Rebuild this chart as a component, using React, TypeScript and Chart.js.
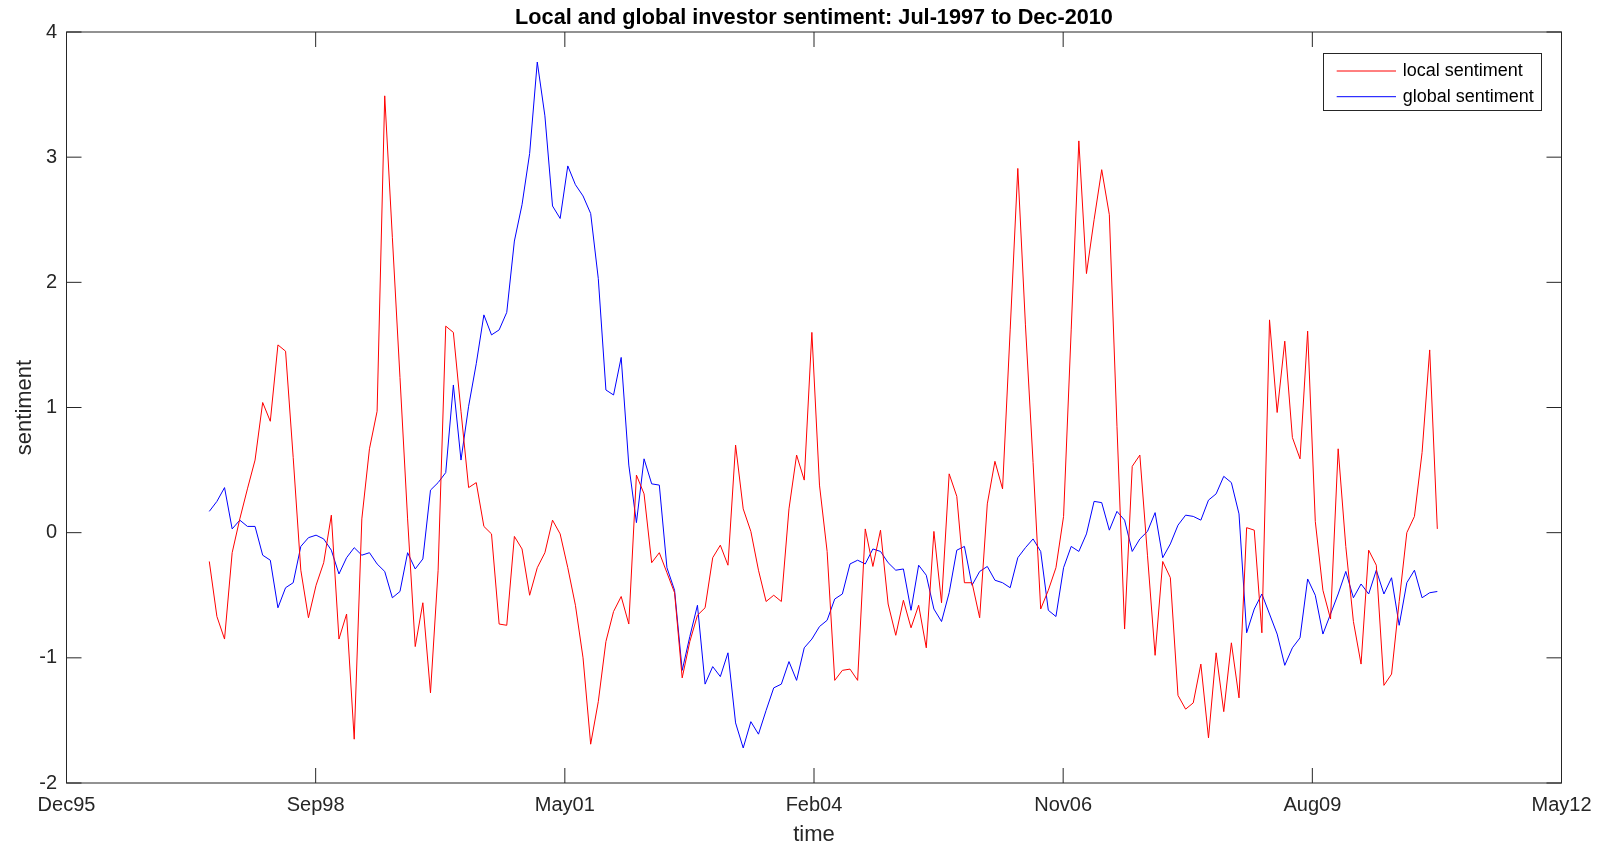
import React, { useEffect, useRef } from "react";
import { Chart, registerables } from "chart.js";

Chart.register(...registerables);

const FONT = "'Liberation Sans', Arial, Helvetica, sans-serif";
const AXIS_COLOR = "#262626";

// Monthly sentiment indices, Jul-1997 .. Dec-2010 (162 months).
// x is measured in months after Dec-1995; the first observation sits at month 19.
const firstMonth = 19;

const localSentiment = [
  -0.23, -0.67, -0.85, -0.16, 0.11, 0.35, 0.58, 1.04, 0.89, 1.5,
  1.45, 0.6, -0.3, -0.68, -0.42, -0.24, 0.14, -0.85, -0.65, -1.65,
  0.11, 0.67, 0.97, 3.49, 2.36, 1.24, 0.11, -0.91, -0.56, -1.28,
  -0.3, 1.65, 1.6, 0.97, 0.36, 0.4, 0.05, -0.01, -0.73, -0.74,
  -0.03, -0.13, -0.5, -0.28, -0.16, 0.1, -0.01, -0.28, -0.58, -1.0,
  -1.69, -1.35, -0.87, -0.63, -0.51, -0.73, 0.46, 0.31, -0.24, -0.16,
  -0.32, -0.48, -1.16, -0.87, -0.66, -0.6, -0.2, -0.1, -0.26, 0.7,
  0.19, 0.01, -0.3, -0.55, -0.5, -0.55, 0.19, 0.62, 0.42, 1.6,
  0.38, -0.15, -1.18, -1.1, -1.09, -1.18, 0.03, -0.27, 0.02, -0.57,
  -0.82, -0.54, -0.76, -0.58, -0.92, 0.01, -0.56, 0.47, 0.29, -0.4,
  -0.4, -0.68, 0.23, 0.57, 0.35, 1.62, 2.91, 1.66, 0.56, -0.61,
  -0.46, -0.28, 0.13, 1.62, 3.13, 2.07, 2.5, 2.9, 2.54, 0.85,
  -0.77, 0.53, 0.62, -0.18, -0.98, -0.23, -0.36, -1.3, -1.41, -1.36,
  -1.05, -1.64, -0.96, -1.43, -0.88, -1.32, 0.04, 0.02, -0.8, 1.7,
  0.96, 1.53, 0.76, 0.59, 1.61, 0.09, -0.46, -0.69, 0.67, -0.11,
  -0.71, -1.05, -0.14, -0.26, -1.22, -1.13, -0.55, 0.0, 0.13, 0.64,
  1.46, 0.03,
];

const globalSentiment = [
  0.17, 0.25, 0.36, 0.03, 0.1, 0.05, 0.05, -0.18, -0.22, -0.6,
  -0.44, -0.4, -0.11, -0.04, -0.02, -0.05, -0.14, -0.33, -0.2, -0.12,
  -0.18, -0.16, -0.25, -0.31, -0.52, -0.47, -0.16, -0.29, -0.21, 0.34,
  0.4, 0.48, 1.18, 0.58, 1.01, 1.35, 1.74, 1.58, 1.62, 1.76,
  2.33, 2.62, 3.03, 3.76, 3.33, 2.61, 2.51, 2.93, 2.78, 2.69,
  2.55, 2.03, 1.14, 1.1, 1.4, 0.54, 0.08, 0.59, 0.39, 0.38,
  -0.28, -0.46, -1.1, -0.83, -0.58, -1.21, -1.07, -1.15, -0.96, -1.52,
  -1.72, -1.51, -1.61, -1.42, -1.24, -1.21, -1.03, -1.18, -0.92, -0.85,
  -0.75, -0.7, -0.53, -0.49, -0.25, -0.22, -0.25, -0.13, -0.15, -0.24,
  -0.3, -0.29, -0.62, -0.26, -0.34, -0.61, -0.71, -0.48, -0.14, -0.11,
  -0.42, -0.31, -0.27, -0.38, -0.4, -0.44, -0.2, -0.12, -0.05, -0.15,
  -0.62, -0.67, -0.28, -0.11, -0.15, -0.01, 0.25, 0.24, 0.02, 0.17,
  0.1, -0.15, -0.05, 0.01, 0.16, -0.2, -0.09, 0.06, 0.14, 0.13,
  0.1, 0.26, 0.31, 0.45, 0.4, 0.15, -0.8, -0.61, -0.49, -0.65,
  -0.81, -1.06, -0.92, -0.84, -0.37, -0.5, -0.81, -0.65, -0.49, -0.31,
  -0.52, -0.41, -0.49, -0.3, -0.49, -0.36, -0.74, -0.4, -0.3, -0.52,
  -0.48, -0.47,
];

const seriesLabels = ["local sentiment", "global sentiment"];
const seriesColors = ["#FF0000", "#0000FF"];

const xTickLabels = ["Dec95", "Sep98", "May01", "Feb04", "Nov06", "Aug09", "May12"];
const yTickValues = [-2, -1, 0, 1, 2, 3, 4];

// Axis window in months after Dec-1995; ticks are spread evenly over it.
const xMin = 0.28;
const xMax = 196.28;

const toPoints = (values: number[]) =>
  values.map((v, i) => ({ x: firstMonth + i, y: v }));

// Box around the plot area with inward-pointing tick marks on all four sides.
const axesBoxPlugin = {
  id: "axesBox",
  afterDatasetsDraw(chart: any) {
    const { ctx, chartArea, scales } = chart;
    const { left, right, top, bottom } = chartArea;
    const len = 15;
    ctx.save();
    ctx.strokeStyle = AXIS_COLOR;
    ctx.lineWidth = 1;
    ctx.beginPath();
    scales.x.ticks.forEach((t: any) => {
      const px = scales.x.getPixelForValue(t.value);
      ctx.moveTo(px, bottom);
      ctx.lineTo(px, bottom - len);
      ctx.moveTo(px, top);
      ctx.lineTo(px, top + len);
    });
    scales.y.ticks.forEach((t: any) => {
      const py = scales.y.getPixelForValue(t.value);
      ctx.moveTo(left, py);
      ctx.lineTo(left + len, py);
      ctx.moveTo(right, py);
      ctx.lineTo(right - len, py);
    });
    ctx.stroke();
    ctx.strokeRect(left, top, right - left, bottom - top);
    ctx.restore();
  },
};

// Boxed legend in the upper right corner with line samples.
const boxedLegendPlugin = {
  id: "boxedLegend",
  afterDraw(chart: any) {
    const { ctx } = chart;
    const boxLeft = 1323.5;
    const boxTop = 53.5;
    const boxRight = 1541.5;
    const boxBottom = 110.5;
    const rowY = [71, 96.7];
    ctx.save();
    ctx.fillStyle = "#FFFFFF";
    ctx.fillRect(boxLeft, boxTop, boxRight - boxLeft, boxBottom - boxTop);
    ctx.strokeStyle = AXIS_COLOR;
    ctx.lineWidth = 1;
    ctx.strokeRect(boxLeft, boxTop, boxRight - boxLeft, boxBottom - boxTop);
    ctx.font = `18px ${FONT}`;
    ctx.textBaseline = "middle";
    ctx.textAlign = "left";
    chart.data.datasets.forEach((ds: any, i: number) => {
      const y = rowY[i];
      ctx.strokeStyle = ds.borderColor;
      ctx.beginPath();
      ctx.moveTo(1336.7, y);
      ctx.lineTo(1396, y);
      ctx.stroke();
      ctx.fillStyle = "#000000";
      ctx.fillText(ds.label, 1402.7, y);
    });
    ctx.restore();
  },
};

export default function App() {
  const canvasRef = useRef<HTMLCanvasElement | null>(null);

  useEffect(() => {
    const canvas = canvasRef.current;
    if (!canvas) return;
    const chart = new Chart(canvas, {
      type: "line",
      data: {
        datasets: [
          {
            label: seriesLabels[0],
            data: toPoints(localSentiment),
            borderColor: seriesColors[0],
            backgroundColor: seriesColors[0],
            borderWidth: 1,
            pointRadius: 0,
            tension: 0,
            fill: false,
          },
          {
            label: seriesLabels[1],
            data: toPoints(globalSentiment),
            borderColor: seriesColors[1],
            backgroundColor: seriesColors[1],
            borderWidth: 1,
            pointRadius: 0,
            tension: 0,
            fill: false,
          },
        ],
      },
      options: {
        animation: false,
        responsive: false,
        devicePixelRatio: 1,
        events: [],
        layout: { padding: { left: 0, right: 42.5, top: 0, bottom: 0 } },
        plugins: {
          legend: { display: false },
          tooltip: { enabled: false },
          title: {
            display: true,
            fullSize: false,
            align: "center",
            text: "Local and global investor sentiment: Jul-1997 to Dec-2010",
            color: "#000000",
            font: { family: FONT, size: 21.7, weight: "bold", lineHeight: 1.2 },
            padding: { top: 5.5, bottom: 0.46 },
          },
        },
        scales: {
          x: {
            type: "linear",
            min: xMin,
            max: xMax,
            grid: { display: false, drawTicks: false },
            border: { display: false },
            afterBuildTicks: (scale: any) => {
              const step = (xMax - xMin) / (xTickLabels.length - 1);
              scale.ticks = xTickLabels.map((_, k) => ({ value: xMin + k * step }));
            },
            afterFit: (scale: any) => {
              scale.height = 62;
            },
            ticks: {
              autoSkip: false,
              maxRotation: 0,
              minRotation: 0,
              padding: 10.5,
              color: AXIS_COLOR,
              font: { family: FONT, size: 20, lineHeight: 1.2 },
              callback: (_v: any, idx: number) => xTickLabels[idx],
            },
            title: {
              display: true,
              text: "time",
              color: AXIS_COLOR,
              font: { family: FONT, size: 22, lineHeight: 0.9 },
              padding: { top: 0, bottom: 0 },
            },
          },
          y: {
            type: "linear",
            min: yTickValues[0],
            max: yTickValues[yTickValues.length - 1],
            grid: { display: false, drawTicks: false },
            border: { display: false },
            afterBuildTicks: (scale: any) => {
              scale.ticks = yTickValues.map((v) => ({ value: v }));
            },
            afterFit: (scale: any) => {
              scale.width = 66.5;
            },
            ticks: {
              padding: 9.4,
              color: AXIS_COLOR,
              font: { family: FONT, size: 20, lineHeight: 1.2 },
              callback: (v: any) => String(v),
            },
            title: {
              display: true,
              text: "sentiment",
              color: AXIS_COLOR,
              font: { family: FONT, size: 22, lineHeight: 1.2 },
              padding: { top: 11.5, bottom: 0 },
            },
          },
        },
      },
      plugins: [axesBoxPlugin, boxedLegendPlugin],
    } as any);
    return () => chart.destroy();
  }, []);

  return (
    <div
      style={{
        position: "fixed",
        left: 0,
        top: 0,
        width: 1604,
        height: 845,
        background: "#FFFFFF",
      }}
    >
      <canvas ref={canvasRef} width={1604} height={845} style={{ display: "block" }} />
    </div>
  );
}
